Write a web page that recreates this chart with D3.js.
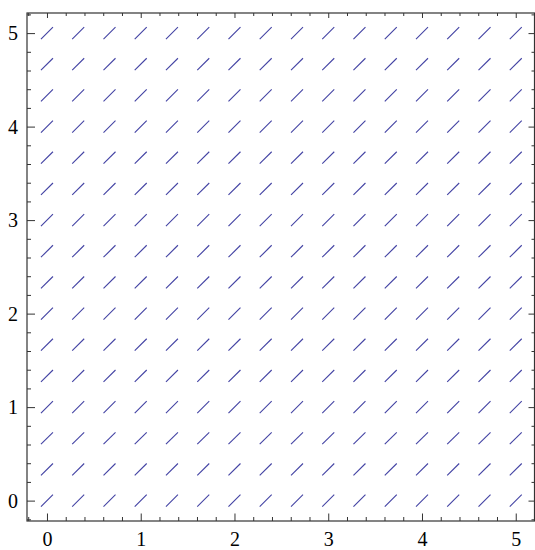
<!DOCTYPE html>
<html lang="en">
  <head>
    <meta charset="UTF-8" />
    <title>Slope Field</title>
    <script src="https://d3js.org/d3.v7.min.js"></script>
    <style>
      body { margin: 0; background: #fff; }
    </style>
  </head>
  <body>
    <div id="chart"></div>

    <script>
      // grid points of the field (x and y sample positions)
      const gridX = [0, 0.333, 0.667, 1, 1.333, 1.667, 2, 2.333, 2.667, 3, 3.333, 3.667, 4, 4.333, 4.667, 5];
      const gridY = [0, 0.333, 0.667, 1, 1.333, 1.667, 2, 2.333, 2.667, 3, 3.333, 3.667, 4, 4.333, 4.667, 5];
      // dy/dx, same everywhere
      const slope = 1;

      const majorTicks = [0, 1, 2, 3, 4, 5];
      const minorTicks = [-0.2, 0.2, 0.4, 0.6, 0.8, 1.2, 1.4, 1.6, 1.8, 2.2, 2.4, 2.6, 2.8,
        3.2, 3.4, 3.6, 3.8, 4.2, 4.4, 4.6, 4.8, 5.2];

      const W = 535, H = 550;
      const frameL = 27, frameR = 534.5, frameT = 13, frameB = 521;

      const svg = d3.select("#chart").append("svg")
        .attr("width", W)
        .attr("height", H);

      const x = d3.scaleLinear().domain([-0.213, 5.2]).range([frameL, frameR]);
      const y = d3.scaleLinear().domain([-0.218, 5.215]).range([frameB, frameT]);

      // segments, centred on each grid point
      const half = 0.064;
      const pts = [];
      gridX.forEach((gx) => gridY.forEach((gy) => pts.push({ gx, gy })));

      svg.append("g")
        .attr("stroke", "#4343a3")
        .attr("stroke-width", 1.1)
        .selectAll("line")
        .data(pts)
        .join("line")
        .attr("x1", (d) => x(d.gx - half))
        .attr("y1", (d) => y(d.gy - half * slope))
        .attr("x2", (d) => x(d.gx + half))
        .attr("y2", (d) => y(d.gy + half * slope));

      // frame
      svg.append("rect")
        .attr("x", frameL)
        .attr("y", frameT)
        .attr("width", frameR - frameL)
        .attr("height", frameB - frameT)
        .attr("fill", "none")
        .attr("stroke", "#333")
        .attr("stroke-width", 1.2);

      function styleAxis(g) {
        g.attr("font-family", "'Liberation Serif', 'Times New Roman', serif")
          .attr("font-size", 20);
        g.select(".domain").remove();
        g.selectAll(".tick line").attr("stroke", "#333").attr("stroke-width", 1);
        g.selectAll(".tick text").attr("fill", "#000");
      }

      // bottom
      svg.append("g")
        .attr("transform", `translate(0,${frameB})`)
        .call(d3.axisBottom(x).tickValues(majorTicks).tickSize(-7.5).tickPadding(11).tickFormat(d3.format("d")))
        .call(styleAxis);
      svg.append("g")
        .attr("transform", `translate(0,${frameB})`)
        .call(d3.axisBottom(x).tickValues(minorTicks).tickSize(-4).tickFormat(""))
        .call(styleAxis);

      // left
      svg.append("g")
        .attr("transform", `translate(${frameL},0)`)
        .call(d3.axisLeft(y).tickValues(majorTicks).tickSize(-8).tickPadding(9).tickFormat(d3.format("d")))
        .call(styleAxis);
      svg.append("g")
        .attr("transform", `translate(${frameL},0)`)
        .call(d3.axisLeft(y).tickValues(minorTicks).tickSize(-4).tickFormat(""))
        .call(styleAxis);

      // top and right, unlabelled
      svg.append("g")
        .attr("transform", `translate(0,${frameT})`)
        .call(d3.axisTop(x).tickValues(majorTicks).tickSize(-5).tickFormat(""))
        .call(styleAxis);
      svg.append("g")
        .attr("transform", `translate(0,${frameT})`)
        .call(d3.axisTop(x).tickValues(minorTicks).tickSize(-3).tickFormat(""))
        .call(styleAxis);
      svg.append("g")
        .attr("transform", `translate(${frameR},0)`)
        .call(d3.axisRight(y).tickValues(majorTicks).tickSize(-6).tickFormat(""))
        .call(styleAxis);
      svg.append("g")
        .attr("transform", `translate(${frameR},0)`)
        .call(d3.axisRight(y).tickValues(minorTicks).tickSize(-3).tickFormat(""))
        .call(styleAxis);
    </script>
  </body>
</html>
